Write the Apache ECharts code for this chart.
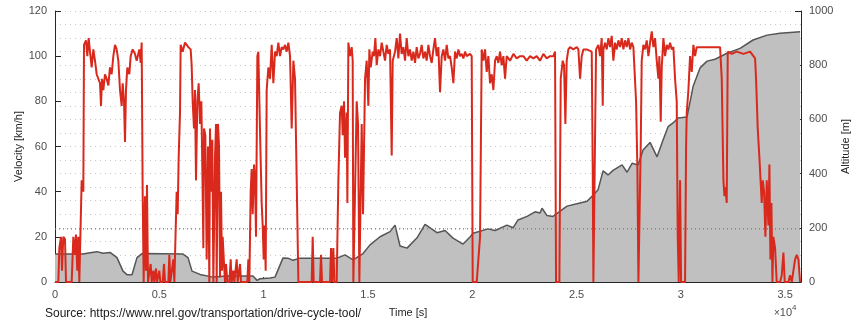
<!DOCTYPE html>
<html>
<head>
<meta charset="utf-8">
<script src="https://cdn.jsdelivr.net/npm/echarts@6/dist/echarts.min.js"></script>
<style>
  html, body { margin: 0; padding: 0; background: #fff; }
  #chart { width: 864px; height: 324px; }
</style>
</head>
<body>
<div id="chart"></div>
<script>
// drive cycle: velocity (left axis) and altitude (right axis) over time
var timeMax = 35760;
var avgVelocity = 23.5;

var velTime = [0, 160, 207, 287, 335, 399, 479, 527, 639, 799, 879, 959, 1006, 1070, 1118, 1166, 1230, 1278, 1358, 1390,
  1486, 1550, 1614, 1678, 1758, 1837, 1917, 1997, 2077, 2157, 2205, 2253, 2317, 2397, 2477, 2557, 2636, 2716, 2796, 2876,
  2956, 3036, 3116, 3196, 3244, 3307, 3355, 3403, 3467, 3563, 3627, 3723, 3835, 3915, 4043, 4107, 4155, 4202, 4250, 4314,
  4362, 4410, 4458, 4522, 4586, 4634, 4714, 4762, 4842, 4890, 5001, 5049, 5161, 5225, 5273, 5433, 5481, 5529, 5593, 5673,
  5721, 5784, 5832, 5880, 5928, 5992, 6024, 6120, 6232, 6392, 6503, 6551, 6599, 6663, 6711, 6759, 6823, 6887, 6951, 7015,
  7063, 7111, 7143, 7207, 7271, 7335, 7398, 7430, 7494, 7542, 7590, 7670, 7718, 7750, 7814, 7862, 7910, 7958, 8006, 8038,
  8102, 8150, 8198, 8261, 8357, 8421, 8469, 8549, 8597, 8709, 8757, 8869, 8917, 9220, 9268, 9316, 9380, 9428, 9476, 9540,
  9588, 9636, 9700, 9748, 9796, 9844, 9907, 9955, 10003, 10051, 10099, 10147, 10227, 10307, 10387, 10467, 10547, 10626, 10706, 10786,
  10866, 10946, 11026, 11106, 11186, 11266, 11346, 11426, 11506, 11586, 11666, 12305, 12353, 12401, 12704, 12752, 12800, 13184, 13232, 13279,
  13343, 13391, 13503, 13583, 13663, 13743, 13791, 13855, 13903, 13983, 14015, 14063, 14142, 14222, 14270, 14302, 14382, 14462, 14526, 14590,
  14654, 14702, 14766, 14862, 14941, 15021, 15069, 15133, 15229, 15293, 15357, 15421, 15501, 15581, 15661, 15740, 15820, 15900, 15980, 16060,
  16140, 16188, 16300, 16380, 16460, 16539, 16619, 16699, 16779, 16859, 16939, 17019, 17099, 17179, 17259, 17338, 17418, 17498, 17578, 17658,
  17738, 17818, 17898, 17978, 18058, 18137, 18217, 18297, 18377, 18457, 18537, 18617, 18697, 18777, 18857, 18936, 19016, 19096, 19176, 19256,
  19336, 19416, 19496, 19576, 19656, 19735, 19895, 19975, 20023, 20215, 20295, 20375, 20455, 20534, 20614, 20694, 20774, 20854, 20934, 21014,
  21094, 21174, 21254, 21333, 21413, 21493, 21573, 21653, 21813, 21973, 22132, 22292, 22452, 22612, 22772, 22931, 23091, 23251, 23411, 23571,
  23730, 23890, 23970, 24018, 24178, 24242, 24338, 24402, 24465, 24529, 24609, 24689, 24849, 25009, 25089, 25169, 25249, 25329, 25489, 25728,
  25776, 25808, 25872, 25936, 26048, 26128, 26208, 26256, 26288, 26368, 26447, 26527, 26607, 26687, 26767, 26847, 26927, 27007, 27087, 27167,
  27246, 27326, 27406, 27486, 27566, 27646, 27726, 27806, 27854, 27918, 27966, 28013, 28077, 28125, 28205, 28285, 28365, 28445, 28525, 28605,
  28685, 28765, 28844, 28924, 28972, 29036, 29084, 29164, 29244, 29324, 29404, 29484, 29564, 29643, 29723, 29803, 29851, 29899, 29963, 30011,
  30203, 30251, 30283, 30363, 30442, 30522, 30602, 30682, 30762, 30922, 31881, 31961, 32041, 32089, 32136, 32200, 32248, 32440, 32680, 32999,
  33319, 33559, 33606, 33686, 33766, 33878, 33926, 33990, 34054, 34118, 34198, 34246, 34294, 34342, 34390, 34437, 34517, 34597, 34757, 34837,
  34917, 34981, 35157, 35237, 35317, 35476, 35556, 35636, 35716];

var velKmh = [0, 0, 15, 20, 5, 20, 19, 0, 0, 0, 20, 12, 21, 5, 20, 0, 0, 45, 40, 105,
  107, 100, 108, 102, 95, 103, 98, 92, 90, 88, 78, 90, 85, 92, 90, 87, 95, 92, 100, 105,
  103, 98, 85, 78, 88, 80, 62, 85, 95, 92, 100, 103, 101, 98, 103, 97, 106, 40, 0, 38,
  5, 43, 0, 0, 8, 0, 5, 0, 6, 0, 5, 0, 0, 8, 0, 0, 12, 0, 0, 10,
  0, 0, 40, 30, 55, 75, 105, 102, 106, 104, 103, 96, 80, 68, 85, 45, 80, 88, 70, 80,
  50, 15, 68, 65, 10, 60, 0, 68, 40, 63, 0, 55, 70, 0, 70, 60, 2, 40, 5, 20,
  8, 0, 8, 0, 0, 10, 0, 5, 0, 10, 0, 8, 0, 0, 10, 0, 40, 50, 30, 52,
  45, 20, 100, 102, 80, 60, 35, 25, 10, 25, 5, 85, 95, 90, 105, 88, 102, 100, 106, 100,
  104, 103, 105, 102, 106, 100, 68, 98, 90, 45, 0, 0, 20, 0, 0, 12, 0, 0, 15, 0,
  15, 0, 0, 45, 75, 78, 65, 80, 55, 75, 35, 106, 100, 104, 98, 0, 0, 80, 70, 0,
  0, 70, 30, 90, 98, 78, 103, 95, 102, 100, 108, 96, 103, 100, 106, 102, 98, 105, 101, 103,
  56, 98, 102, 108, 99, 110, 101, 104, 98, 108, 100, 103, 98, 102, 97, 104, 99, 101, 105, 99,
  102, 98, 105, 100, 97, 103, 108, 100, 104, 84, 100, 103, 98, 105, 99, 100, 95, 88, 102, 99,
  103, 100, 101, 99, 102, 100, 101, 100, 0, 0, 0, 20, 103, 98, 103, 93, 100, 88, 92, 85,
  98, 100, 97, 102, 96, 100, 90, 100, 98, 101, 99, 100, 100, 98, 100, 99, 100, 98, 101, 99,
  100, 100, 102, 0, 0, 90, 98, 96, 70, 98, 103, 104, 103, 104, 103, 90, 100, 103, 103, 102,
  50, 0, 0, 103, 105, 100, 108, 78, 103, 106, 103, 108, 104, 109, 98, 106, 103, 107, 104, 108,
  103, 107, 104, 108, 103, 106, 104, 104, 80, 50, 0, 0, 60, 98, 105, 103, 107, 100, 106, 111,
  104, 108, 98, 90, 100, 71, 95, 108, 100, 105, 103, 106, 103, 104, 90, 80, 20, 0, 45, 0,
  0, 60, 75, 85, 100, 93, 105, 100, 104, 104, 104, 90, 45, 38, 42, 35, 102, 101, 102, 101,
  102, 99, 90, 68, 55, 35, 45, 40, 20, 45, 25, 52, 10, 35, 0, 20, 15, 0, 0, 3,
  13, 0, 0, 3, 0, 10, 12, 10, 0];

var altTime = [0, 1342, 1678, 2013, 2301, 2637, 2972, 3260, 3452, 3691, 3931, 4171, 6136, 6376, 6568, 6951, 7575, 8246, 9492, 9684,
  9828, 10307, 10547, 10930, 11170, 11410, 11745, 13519, 13903, 14286, 14766, 15101, 15581, 16060, 16300, 16539, 16875, 17354, 17738, 18313,
  18697, 19080, 19560, 19895, 20039, 20758, 21094, 21669, 21957, 22196, 22628, 23011, 23251, 23347, 23586, 23874, 24545, 25073, 25504, 25792,
  26031, 26271, 26511, 26751, 27182, 27422, 27662, 27949, 28189, 28525, 28860, 29148, 29388, 29627, 29867, 30298, 30586, 30921, 31257, 31640,
  32216, 32839, 33462, 34133, 34757, 35716];

var altMeters = [103, 103, 108, 112, 106, 109, 90, 40, 27, 27, 90, 105, 103, 90, 40, 28, 18, 22, 22, 6,
  12, 15, 18, 89, 88, 80, 88, 88, 100, 82, 105, 137, 167, 186, 210, 133, 125, 163, 213, 182,
  190, 162, 140, 166, 180, 196, 190, 210, 200, 229, 242, 259, 255, 272, 245, 242, 280, 290, 298, 320,
  340, 410, 395, 412, 432, 405, 438, 432, 487, 515, 462, 524, 573, 587, 605, 609, 721, 790, 815, 822,
  844, 862, 893, 911, 918, 923];

var velData = velTime.map(function (t, i) { return [t, velKmh[i]]; });
var altData = altTime.map(function (t, i) { return [t, altMeters[i]]; });
var avgData = [[0, avgVelocity], [timeMax, avgVelocity]];

var chart = echarts.init(document.getElementById('chart'));
var labelColor = '#4d4d4d';
var font = 'Liberation Sans, Arial, sans-serif';
var gridDots = { color: '#c8c8c8', type: [1, 4], width: 1 };

var option = {
  animation: false,
  textStyle: { fontFamily: font },
  grid: { left: 55, right: 63, top: 11, bottom: 42 },
  xAxis: {
    type: 'value',
    min: 0,
    max: timeMax,
    interval: 5000,
    name: 'Time [s]',
    nameLocation: 'middle',
    nameGap: 25,
    nameTextStyle: { color: '#262626', fontSize: 11, padding: [0, 40, 0, 0] },
    axisLine: { lineStyle: { color: '#262626', width: 1 } },
    axisTick: { inside: true, length: 5, lineStyle: { color: '#262626' } },
    axisLabel: {
      color: labelColor, fontSize: 11, margin: 7,
      formatter: function (v) { return v % 5000 === 0 ? String(v / 10000) : ''; }
    },
    splitLine: { show: false }
  },
  yAxis: [{
    type: 'value',
    min: 0,
    max: 120,
    interval: 20,
    position: 'left',
    name: 'Velocity [km/h]',
    nameLocation: 'middle',
    nameGap: 31,
    nameMoveOverlap: false,
    nameTextStyle: { color: '#262626', fontSize: 11 },
    axisLine: { show: true, lineStyle: { color: '#262626' } },
    axisTick: { show: true, inside: true, length: 6, lineStyle: { color: '#262626' } },
    axisLabel: { color: labelColor, fontSize: 11, margin: 8 },
    splitLine: { show: false }
  }, {
    type: 'value',
    min: 0,
    max: 1000,
    interval: 200,
    position: 'right',
    name: 'Altitude [m]',
    nameLocation: 'middle',
    nameGap: 39,
    nameMoveOverlap: false,
    nameRotate: 90,
    nameTextStyle: { color: '#262626', fontSize: 11 },
    axisLine: { show: true, lineStyle: { color: '#262626' } },
    axisTick: { show: true, inside: true, length: 6, lineStyle: { color: '#262626' } },
    axisLabel: { color: labelColor, fontSize: 11, margin: 8, formatter: function (v) { return String(v); } },
    splitLine: { show: true, lineStyle: gridDots },
    minorTick: { show: false, splitNumber: 4 },
    minorSplitLine: { show: true, lineStyle: gridDots }
  }],
  series: [{
    name: 'Altitude',
    type: 'line',
    yAxisIndex: 1,
    data: altData,
    showSymbol: false,
    lineStyle: { color: '#555555', width: 1.5 },
    areaStyle: { color: '#c0c0c0', opacity: 1 },
    z: 2
  }, {
    name: 'Average',
    type: 'line',
    yAxisIndex: 0,
    data: avgData,
    showSymbol: false,
    silent: true,
    lineStyle: { color: '#e8463a', type: [1, 3], width: 1.2 },
    z: 3
  }, {
    name: 'Velocity',
    type: 'line',
    yAxisIndex: 0,
    data: velData,
    showSymbol: false,
    sampling: 'none',
    lineStyle: { color: '#d9291c', width: 2 },
    z: 4
  }],
  graphic: [{
    type: 'text',
    left: 45,
    top: 308,
    style: {
      text: 'Source: https://www.nrel.gov/transportation/drive-cycle-tool/',
      fill: '#1a1a1a', fontSize: 12, fontFamily: font
    }
  }, {
    type: 'text',
    left: 774,
    top: 304,
    style: {
      text: '{a|\u00d7}{b|10}{c|4}',
      rich: {
        a: { fontSize: 10, fill: labelColor, fontFamily: font, verticalAlign: 'bottom' },
        b: { fontSize: 11, fill: labelColor, fontFamily: font, verticalAlign: 'bottom' },
        c: { fontSize: 8, fill: labelColor, fontFamily: font, verticalAlign: 'top', padding: [0, 0, 6, 0] }
      }
    }
  }]
};

chart.setOption(option);
</script>
</body>
</html>
